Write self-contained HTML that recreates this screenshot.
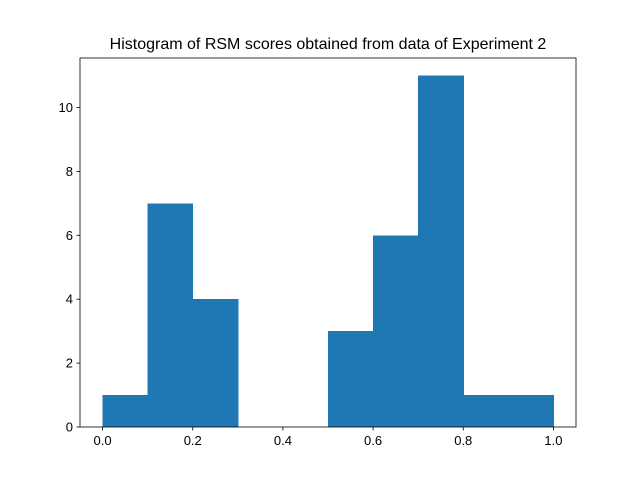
<!DOCTYPE html>
<html><head><meta charset="utf-8"><style>
html,body{margin:0;padding:0;background:#fff;}
svg{display:block;font-family:"Liberation Sans","DejaVu Sans",sans-serif;}
</style></head><body>
<svg id="chart" width="640" height="480" viewBox="0 0 640 480">
<rect x="0" y="0" width="640" height="480" fill="#fff"/>
<text x="328" y="49" font-size="16" text-anchor="middle" fill="#000">Histogram of RSM scores obtained from data of Experiment 2</text>
<g id="bars" shape-rendering="crispEdges"></g>
<g id="axes"></g>
</svg>
<script>
const binEdges = [0,0.1,0.2,0.3,0.4,0.5,0.6,0.7,0.8,0.9,1.0];
const counts = [1,7,4,0,0,3,6,11,1,1];
const xTicks = [0,0.2,0.4,0.6,0.8,1.0];
const xTickLabels = ["0.0","0.2","0.4","0.6","0.8","1.0"];
const yTicks = [0,2,4,6,8,10];
const yTickLabels = ["0","2","4","6","8","10"];

const L=80,R=576,T=58,B=427;
const xMin=-0.05,xMax=1.05,yMin=0,yMax=11.55;
const sx=v=>L+(v-xMin)/(xMax-xMin)*(R-L);
const sy=v=>B-(v-yMin)/(yMax-yMin)*(B-T);
const NS="http://www.w3.org/2000/svg";
const bars=document.getElementById('bars'), axes=document.getElementById('axes');

for(let i=0;i<counts.length;i++){
  if(counts[i]<=0) continue;
  const r=document.createElementNS(NS,'rect');
  r.setAttribute('x',sx(binEdges[i]));
  r.setAttribute('y',sy(counts[i]));
  r.setAttribute('width',sx(binEdges[i+1])-sx(binEdges[i])+0.5);
  r.setAttribute('height',sy(0)-sy(counts[i]));
  r.setAttribute('fill','#1f77b4');
  
  
  bars.appendChild(r);
}
const frame=document.createElementNS(NS,'rect');
frame.setAttribute('x',L);frame.setAttribute('y',T);
frame.setAttribute('width',R-L);frame.setAttribute('height',B-T);
frame.setAttribute('fill','none');frame.setAttribute('stroke','#000');frame.setAttribute('stroke-width','0.8');


axes.appendChild(frame);

xTicks.forEach((v,i)=>{
  const x=sx(v);
  const l=document.createElementNS(NS,'line');
  l.setAttribute('x1',x);l.setAttribute('x2',x);l.setAttribute('y1',B);l.setAttribute('y2',B+3.5);
  l.setAttribute('stroke','#000');l.setAttribute('stroke-width','0.8');
  
  
  axes.appendChild(l);
  const t=document.createElementNS(NS,'text');
  t.setAttribute('x',x);t.setAttribute('y',B+18);t.setAttribute('font-size','13');t.setAttribute('text-anchor','middle');
  t.textContent=xTickLabels[i];
  
  
  axes.appendChild(t);
});
yTicks.forEach((v,i)=>{
  const y=sy(v);
  const l=document.createElementNS(NS,'line');
  l.setAttribute('x1',L-3.5);l.setAttribute('x2',L);l.setAttribute('y1',y);l.setAttribute('y2',y);
  l.setAttribute('stroke','#000');l.setAttribute('stroke-width','0.8');
  
  
  axes.appendChild(l);
  const t=document.createElementNS(NS,'text');
  t.setAttribute('x',L-7);t.setAttribute('y',y+4.5);t.setAttribute('font-size','13');t.setAttribute('text-anchor','end');
  t.textContent=yTickLabels[i];
  
  
  axes.appendChild(t);
});
</script>
</body></html>
